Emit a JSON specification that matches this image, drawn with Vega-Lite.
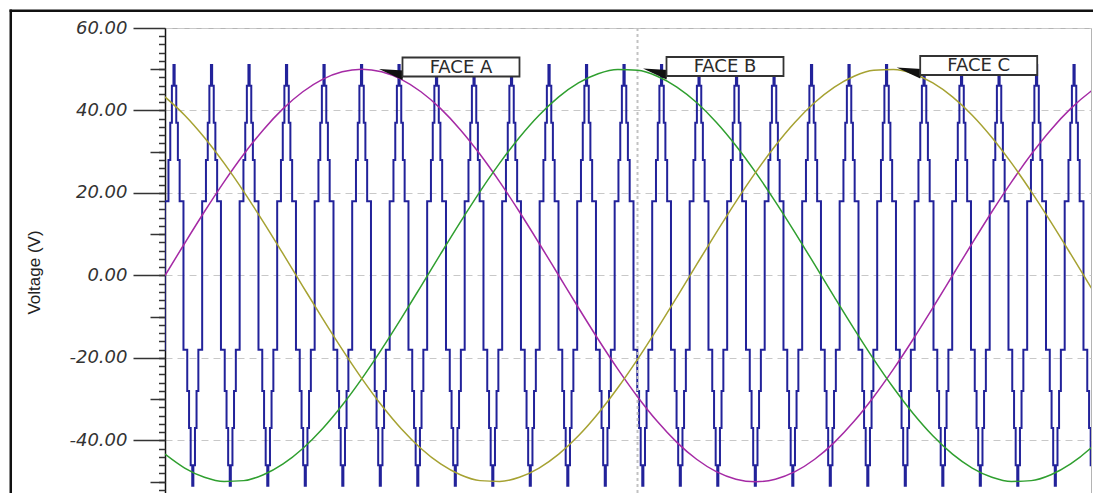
{
  "$schema": "https://vega.github.io/schema/vega-lite/v6.json",
  "width": 926,
  "height": 465,
  "autosize": {"type": "none"},
  "padding": {"left": 165, "top": 28, "right": 2, "bottom": 0},
  "background": "white",
  "config": {"view": {"stroke": "#b4b4b4", "strokeWidth": 1}},
  "datasets": {
    "phases": [
      {"t": 0, "A": 0, "B": -43.3, "C": 43.3},
      {"t": 0.5, "A": 7.82, "B": -46.68, "C": 38.86},
      {"t": 1, "A": 15.45, "B": -48.91, "C": 33.46},
      {"t": 1.5, "A": 22.7, "B": -49.93, "C": 27.23},
      {"t": 2, "A": 29.39, "B": -49.73, "C": 20.34},
      {"t": 2.5, "A": 35.36, "B": -48.3, "C": 12.94},
      {"t": 3, "A": 40.45, "B": -45.68, "C": 5.23},
      {"t": 3.5, "A": 44.55, "B": -41.93, "C": -2.62},
      {"t": 4, "A": 47.55, "B": -37.16, "C": -10.4},
      {"t": 4.5, "A": 49.38, "B": -31.47, "C": -17.92},
      {"t": 5, "A": 50, "B": -25, "C": -25},
      {"t": 5.5, "A": 49.38, "B": -17.92, "C": -31.47},
      {"t": 6, "A": 47.55, "B": -10.4, "C": -37.16},
      {"t": 6.5, "A": 44.55, "B": -2.62, "C": -41.93},
      {"t": 7, "A": 40.45, "B": 5.23, "C": -45.68},
      {"t": 7.5, "A": 35.36, "B": 12.94, "C": -48.3},
      {"t": 8, "A": 29.39, "B": 20.34, "C": -49.73},
      {"t": 8.5, "A": 22.7, "B": 27.23, "C": -49.93},
      {"t": 9, "A": 15.45, "B": 33.46, "C": -48.91},
      {"t": 9.5, "A": 7.82, "B": 38.86, "C": -46.68},
      {"t": 10, "A": 0, "B": 43.3, "C": -43.3},
      {"t": 10.5, "A": -7.82, "B": 46.68, "C": -38.86},
      {"t": 11, "A": -15.45, "B": 48.91, "C": -33.46},
      {"t": 11.5, "A": -22.7, "B": 49.93, "C": -27.23},
      {"t": 12, "A": -29.39, "B": 49.73, "C": -20.34},
      {"t": 12.5, "A": -35.36, "B": 48.3, "C": -12.94},
      {"t": 13, "A": -40.45, "B": 45.68, "C": -5.23},
      {"t": 13.5, "A": -44.55, "B": 41.93, "C": 2.62},
      {"t": 14, "A": -47.55, "B": 37.16, "C": 10.4},
      {"t": 14.5, "A": -49.38, "B": 31.47, "C": 17.92},
      {"t": 15, "A": -50, "B": 25, "C": 25},
      {"t": 15.5, "A": -49.38, "B": 17.92, "C": 31.47},
      {"t": 16, "A": -47.55, "B": 10.4, "C": 37.16},
      {"t": 16.5, "A": -44.55, "B": 2.62, "C": 41.93},
      {"t": 17, "A": -40.45, "B": -5.23, "C": 45.68},
      {"t": 17.5, "A": -35.36, "B": -12.94, "C": 48.3},
      {"t": 18, "A": -29.39, "B": -20.34, "C": 49.73},
      {"t": 18.5, "A": -22.7, "B": -27.23, "C": 49.93},
      {"t": 19, "A": -15.45, "B": -33.46, "C": 48.91},
      {"t": 19.5, "A": -7.82, "B": -38.86, "C": 46.68},
      {"t": 20, "A": 0, "B": -43.3, "C": 43.3},
      {"t": 20.5, "A": 7.82, "B": -46.68, "C": 38.86},
      {"t": 21, "A": 15.45, "B": -48.91, "C": 33.46},
      {"t": 21.5, "A": 22.7, "B": -49.93, "C": 27.23},
      {"t": 22, "A": 29.39, "B": -49.73, "C": 20.34},
      {"t": 22.5, "A": 35.36, "B": -48.3, "C": 12.94},
      {"t": 23, "A": 40.45, "B": -45.68, "C": 5.23},
      {"t": 23.5, "A": 44.55, "B": -41.93, "C": -2.62},
      {"t": 24, "A": 47.55, "B": -37.16, "C": -10.4}
    ],
    "pwm": [
      {"t":-0.105,"v":-18},{"t":-0.008,"v":18},{"t":0.088,"v":28},{"t":0.134,"v":37},{"t":0.175,"v":46},{"t":0.215,"v":51},
      {"t":0.245,"v":46},{"t":0.286,"v":37},{"t":0.327,"v":28},{"t":0.372,"v":18},{"t":0.469,"v":-18},{"t":0.565,"v":-28},{"t":0.611,"v":-37},{"t":0.652,"v":-46},{"t":0.692,"v":-51},{"t":0.720,"v":-46},{"t":0.761,"v":-37},{"t":0.801,"v":-28},{"t":0.847,"v":-18},{"t":0.944,"v":18},{"t":1.040,"v":28},{"t":1.086,"v":37},{"t":1.127,"v":46},{"t":1.167,"v":51},
      {"t":1.197,"v":46},{"t":1.238,"v":37},{"t":1.279,"v":28},{"t":1.324,"v":18},{"t":1.421,"v":-18},{"t":1.517,"v":-28},{"t":1.563,"v":-37},{"t":1.604,"v":-46},{"t":1.644,"v":-51},{"t":1.672,"v":-46},{"t":1.713,"v":-37},{"t":1.753,"v":-28},{"t":1.799,"v":-18},{"t":1.896,"v":18},{"t":1.992,"v":28},{"t":2.038,"v":37},{"t":2.079,"v":46},{"t":2.119,"v":51},
      {"t":2.150,"v":46},{"t":2.191,"v":37},{"t":2.232,"v":28},{"t":2.277,"v":18},{"t":2.374,"v":-18},{"t":2.470,"v":-28},{"t":2.516,"v":-37},{"t":2.557,"v":-46},{"t":2.597,"v":-51},{"t":2.625,"v":-46},{"t":2.666,"v":-37},{"t":2.706,"v":-28},{"t":2.752,"v":-18},{"t":2.849,"v":18},{"t":2.945,"v":28},{"t":2.991,"v":37},{"t":3.032,"v":46},{"t":3.072,"v":51},
      {"t":3.102,"v":46},{"t":3.143,"v":37},{"t":3.184,"v":28},{"t":3.229,"v":18},{"t":3.326,"v":-18},{"t":3.422,"v":-28},{"t":3.468,"v":-37},{"t":3.509,"v":-46},{"t":3.549,"v":-51},{"t":3.577,"v":-46},{"t":3.618,"v":-37},{"t":3.658,"v":-28},{"t":3.704,"v":-18},{"t":3.801,"v":18},{"t":3.897,"v":28},{"t":3.943,"v":37},{"t":3.984,"v":46},{"t":4.024,"v":51},
      {"t":4.055,"v":46},{"t":4.096,"v":37},{"t":4.137,"v":28},{"t":4.182,"v":18},{"t":4.279,"v":-18},{"t":4.375,"v":-28},{"t":4.421,"v":-37},{"t":4.462,"v":-46},{"t":4.502,"v":-51},{"t":4.530,"v":-46},{"t":4.571,"v":-37},{"t":4.611,"v":-28},{"t":4.657,"v":-18},{"t":4.754,"v":18},{"t":4.850,"v":28},{"t":4.896,"v":37},{"t":4.937,"v":46},{"t":4.977,"v":51},
      {"t":5.007,"v":46},{"t":5.048,"v":37},{"t":5.089,"v":28},{"t":5.134,"v":18},{"t":5.231,"v":-18},{"t":5.327,"v":-28},{"t":5.373,"v":-37},{"t":5.414,"v":-46},{"t":5.454,"v":-51},{"t":5.482,"v":-46},{"t":5.523,"v":-37},{"t":5.563,"v":-28},{"t":5.609,"v":-18},{"t":5.706,"v":18},{"t":5.802,"v":28},{"t":5.848,"v":37},{"t":5.889,"v":46},{"t":5.929,"v":51},
      {"t":5.959,"v":46},{"t":6.000,"v":37},{"t":6.041,"v":28},{"t":6.086,"v":18},{"t":6.183,"v":-18},{"t":6.279,"v":-28},{"t":6.325,"v":-37},{"t":6.366,"v":-46},{"t":6.406,"v":-51},{"t":6.434,"v":-46},{"t":6.475,"v":-37},{"t":6.515,"v":-28},{"t":6.561,"v":-18},{"t":6.658,"v":18},{"t":6.754,"v":28},{"t":6.800,"v":37},{"t":6.841,"v":46},{"t":6.881,"v":51},
      {"t":6.912,"v":46},{"t":6.953,"v":37},{"t":6.994,"v":28},{"t":7.039,"v":18},{"t":7.136,"v":-18},{"t":7.232,"v":-28},{"t":7.278,"v":-37},{"t":7.319,"v":-46},{"t":7.359,"v":-51},{"t":7.387,"v":-46},{"t":7.428,"v":-37},{"t":7.468,"v":-28},{"t":7.514,"v":-18},{"t":7.611,"v":18},{"t":7.707,"v":28},{"t":7.753,"v":37},{"t":7.794,"v":46},{"t":7.834,"v":51},
      {"t":7.864,"v":46},{"t":7.905,"v":37},{"t":7.946,"v":28},{"t":7.991,"v":18},{"t":8.088,"v":-18},{"t":8.184,"v":-28},{"t":8.230,"v":-37},{"t":8.271,"v":-46},{"t":8.311,"v":-51},{"t":8.339,"v":-46},{"t":8.380,"v":-37},{"t":8.420,"v":-28},{"t":8.466,"v":-18},{"t":8.563,"v":18},{"t":8.659,"v":28},{"t":8.705,"v":37},{"t":8.746,"v":46},{"t":8.786,"v":51},
      {"t":8.816,"v":46},{"t":8.857,"v":37},{"t":8.898,"v":28},{"t":8.943,"v":18},{"t":9.040,"v":-18},{"t":9.136,"v":-28},{"t":9.182,"v":-37},{"t":9.223,"v":-46},{"t":9.263,"v":-51},{"t":9.291,"v":-46},{"t":9.332,"v":-37},{"t":9.372,"v":-28},{"t":9.418,"v":-18},{"t":9.515,"v":18},{"t":9.611,"v":28},{"t":9.657,"v":37},{"t":9.698,"v":46},{"t":9.738,"v":51},
      {"t":9.769,"v":46},{"t":9.810,"v":37},{"t":9.851,"v":28},{"t":9.896,"v":18},{"t":9.993,"v":-18},{"t":10.089,"v":-28},{"t":10.135,"v":-37},{"t":10.176,"v":-46},{"t":10.216,"v":-51},{"t":10.244,"v":-46},{"t":10.285,"v":-37},{"t":10.325,"v":-28},{"t":10.371,"v":-18},{"t":10.468,"v":18},{"t":10.564,"v":28},{"t":10.610,"v":37},{"t":10.651,"v":46},{"t":10.691,"v":51},
      {"t":10.721,"v":46},{"t":10.762,"v":37},{"t":10.803,"v":28},{"t":10.848,"v":18},{"t":10.945,"v":-18},{"t":11.041,"v":-28},{"t":11.087,"v":-37},{"t":11.128,"v":-46},{"t":11.168,"v":-51},{"t":11.196,"v":-46},{"t":11.237,"v":-37},{"t":11.277,"v":-28},{"t":11.323,"v":-18},{"t":11.420,"v":18},{"t":11.516,"v":28},{"t":11.562,"v":37},{"t":11.603,"v":46},{"t":11.643,"v":51},
      {"t":11.674,"v":46},{"t":11.715,"v":37},{"t":11.756,"v":28},{"t":11.801,"v":18},{"t":11.898,"v":-18},{"t":11.994,"v":-28},{"t":12.040,"v":-37},{"t":12.081,"v":-46},{"t":12.121,"v":-51},{"t":12.149,"v":-46},{"t":12.190,"v":-37},{"t":12.230,"v":-28},{"t":12.276,"v":-18},{"t":12.373,"v":18},{"t":12.469,"v":28},{"t":12.515,"v":37},{"t":12.556,"v":46},{"t":12.596,"v":51},
      {"t":12.626,"v":46},{"t":12.667,"v":37},{"t":12.708,"v":28},{"t":12.753,"v":18},{"t":12.850,"v":-18},{"t":12.946,"v":-28},{"t":12.992,"v":-37},{"t":13.033,"v":-46},{"t":13.073,"v":-51},{"t":13.101,"v":-46},{"t":13.142,"v":-37},{"t":13.182,"v":-28},{"t":13.228,"v":-18},{"t":13.325,"v":18},{"t":13.421,"v":28},{"t":13.467,"v":37},{"t":13.508,"v":46},{"t":13.548,"v":51},
      {"t":13.578,"v":46},{"t":13.619,"v":37},{"t":13.660,"v":28},{"t":13.705,"v":18},{"t":13.802,"v":-18},{"t":13.898,"v":-28},{"t":13.944,"v":-37},{"t":13.985,"v":-46},{"t":14.025,"v":-51},{"t":14.053,"v":-46},{"t":14.094,"v":-37},{"t":14.134,"v":-28},{"t":14.180,"v":-18},{"t":14.277,"v":18},{"t":14.373,"v":28},{"t":14.419,"v":37},{"t":14.460,"v":46},{"t":14.500,"v":51},
      {"t":14.531,"v":46},{"t":14.572,"v":37},{"t":14.613,"v":28},{"t":14.658,"v":18},{"t":14.755,"v":-18},{"t":14.851,"v":-28},{"t":14.897,"v":-37},{"t":14.938,"v":-46},{"t":14.978,"v":-51},{"t":15.006,"v":-46},{"t":15.047,"v":-37},{"t":15.087,"v":-28},{"t":15.133,"v":-18},{"t":15.230,"v":18},{"t":15.326,"v":28},{"t":15.372,"v":37},{"t":15.413,"v":46},{"t":15.453,"v":51},
      {"t":15.483,"v":46},{"t":15.524,"v":37},{"t":15.565,"v":28},{"t":15.610,"v":18},{"t":15.707,"v":-18},{"t":15.803,"v":-28},{"t":15.849,"v":-37},{"t":15.890,"v":-46},{"t":15.930,"v":-51},{"t":15.958,"v":-46},{"t":15.999,"v":-37},{"t":16.039,"v":-28},{"t":16.085,"v":-18},{"t":16.182,"v":18},{"t":16.278,"v":28},{"t":16.324,"v":37},{"t":16.365,"v":46},{"t":16.405,"v":51},
      {"t":16.435,"v":46},{"t":16.476,"v":37},{"t":16.517,"v":28},{"t":16.562,"v":18},{"t":16.659,"v":-18},{"t":16.755,"v":-28},{"t":16.801,"v":-37},{"t":16.842,"v":-46},{"t":16.882,"v":-51},{"t":16.910,"v":-46},{"t":16.951,"v":-37},{"t":16.991,"v":-28},{"t":17.037,"v":-18},{"t":17.134,"v":18},{"t":17.230,"v":28},{"t":17.276,"v":37},{"t":17.317,"v":46},{"t":17.357,"v":51},
      {"t":17.388,"v":46},{"t":17.429,"v":37},{"t":17.470,"v":28},{"t":17.515,"v":18},{"t":17.612,"v":-18},{"t":17.708,"v":-28},{"t":17.754,"v":-37},{"t":17.795,"v":-46},{"t":17.835,"v":-51},{"t":17.863,"v":-46},{"t":17.904,"v":-37},{"t":17.944,"v":-28},{"t":17.990,"v":-18},{"t":18.087,"v":18},{"t":18.183,"v":28},{"t":18.229,"v":37},{"t":18.270,"v":46},{"t":18.310,"v":51},
      {"t":18.340,"v":46},{"t":18.381,"v":37},{"t":18.422,"v":28},{"t":18.467,"v":18},{"t":18.564,"v":-18},{"t":18.660,"v":-28},{"t":18.706,"v":-37},{"t":18.747,"v":-46},{"t":18.787,"v":-51},{"t":18.815,"v":-46},{"t":18.856,"v":-37},{"t":18.896,"v":-28},{"t":18.942,"v":-18},{"t":19.039,"v":18},{"t":19.135,"v":28},{"t":19.181,"v":37},{"t":19.222,"v":46},{"t":19.262,"v":51},
      {"t":19.293,"v":46},{"t":19.334,"v":37},{"t":19.375,"v":28},{"t":19.420,"v":18},{"t":19.517,"v":-18},{"t":19.613,"v":-28},{"t":19.659,"v":-37},{"t":19.700,"v":-46},{"t":19.740,"v":-51},{"t":19.768,"v":-46},{"t":19.809,"v":-37},{"t":19.849,"v":-28},{"t":19.895,"v":-18},{"t":19.992,"v":18},{"t":20.088,"v":28},{"t":20.134,"v":37},{"t":20.175,"v":46},{"t":20.215,"v":51},
      {"t":20.245,"v":46},{"t":20.286,"v":37},{"t":20.327,"v":28},{"t":20.372,"v":18},{"t":20.469,"v":-18},{"t":20.565,"v":-28},{"t":20.611,"v":-37},{"t":20.652,"v":-46},{"t":20.692,"v":-51},{"t":20.720,"v":-46},{"t":20.761,"v":-37},{"t":20.801,"v":-28},{"t":20.847,"v":-18},{"t":20.944,"v":18},{"t":21.040,"v":28},{"t":21.086,"v":37},{"t":21.127,"v":46},{"t":21.167,"v":51},
      {"t":21.197,"v":46},{"t":21.238,"v":37},{"t":21.279,"v":28},{"t":21.324,"v":18},{"t":21.421,"v":-18},{"t":21.517,"v":-28},{"t":21.563,"v":-37},{"t":21.604,"v":-46},{"t":21.644,"v":-51},{"t":21.672,"v":-46},{"t":21.713,"v":-37},{"t":21.753,"v":-28},{"t":21.799,"v":-18},{"t":21.896,"v":18},{"t":21.992,"v":28},{"t":22.038,"v":37},{"t":22.079,"v":46},{"t":22.119,"v":51},
      {"t":22.150,"v":46},{"t":22.191,"v":37},{"t":22.232,"v":28},{"t":22.277,"v":18},{"t":22.374,"v":-18},{"t":22.470,"v":-28},{"t":22.516,"v":-37},{"t":22.557,"v":-46},{"t":22.597,"v":-51},{"t":22.625,"v":-46},{"t":22.666,"v":-37},{"t":22.706,"v":-28},{"t":22.752,"v":-18},{"t":22.849,"v":18},{"t":22.945,"v":28},{"t":22.991,"v":37},{"t":23.032,"v":46},{"t":23.072,"v":51},
      {"t":23.102,"v":46},{"t":23.143,"v":37},{"t":23.184,"v":28},{"t":23.229,"v":18},{"t":23.326,"v":-18},{"t":23.422,"v":-28},{"t":23.468,"v":-37},{"t":23.509,"v":-46},{"t":23.549,"v":-51},{"t":23.577,"v":-46}
    ],
    "notes": [
      {"label": "FACE A", "t": 7.517, "v": 50.55},
      {"label": "FACE B", "t": 14.222, "v": 50.67},
      {"label": "FACE C", "t": 20.665, "v": 50.91}
    ]
  },
  "resolve": {"axis": {"y": "independent"}},
  "layer": [
    {
      "data": {"values": [{}]},
      "mark": {"type": "rule", "color": "#111111", "strokeWidth": 2.5, "clip": false},
      "encoding": {
        "x": {"datum": -3.949, "type": "quantitative", "scale": {"domain": [0, 23.517], "nice": false, "zero": false}, "axis": null},
        "x2": {"datum": 23.7},
        "y": {"datum": 64.18, "type": "quantitative", "scale": {"domain": [-52.73, 60], "nice": false, "zero": false}, "axis": null}
      }
    },
    {
      "data": {"values": [{}]},
      "mark": {"type": "rule", "color": "#111111", "strokeWidth": 2.5, "clip": false},
      "encoding": {
        "x": {"datum": -3.917, "type": "quantitative", "scale": {"domain": [0, 23.517], "nice": false, "zero": false}, "axis": null},
        "y": {"datum": 64.485, "type": "quantitative", "scale": {"domain": [-52.73, 60], "nice": false, "zero": false}, "axis": null},
        "y2": {"datum": -54}
      }
    },
    {
      "data": {"name": "pwm"},
      "mark": {"type": "line", "interpolate": "step-after", "color": "#22229a", "strokeWidth": 2, "clip": true},
      "encoding": {
        "x": {"field": "t", "type": "quantitative", "scale": {"domain": [0, 23.517], "nice": false, "zero": false}, "axis": null},
        "y": {
          "field": "v", "type": "quantitative",
          "scale": {"domain": [-52.73, 60], "nice": false, "zero": false},
          "axis": {
            "orient": "left",
            "values": [60, 40, 20, 0, -20, -40],
            "labelExpr": "replace(format(datum.value, '.2f'), '\u2212', '-')",
            "tickSize": 32, "tickColor": "#333333", "tickWidth": 1.5,
            "domain": true, "domainColor": "#111111", "domainWidth": 1.5,
            "labelFont": "DejaVu Sans", "labelFontStyle": "italic", "labelFontSize": 18,
            "labelColor": "#333333", "labelPadding": 6, "labelOverlap": false, "labelFlush": false,
            "grid": true, "gridColor": "#c8c8c8", "gridDash": [7, 5], "gridWidth": 1,
            "title": "Voltage (V)", "titleFont": "Liberation Sans", "titleFontSize": 17,
            "titleFontWeight": "normal", "titleColor": "#222222",
            "titleAngle": -90, "titleX": -131, "titleY": 244,
            "titleAlign": "center", "titleBaseline": "middle"
          }
        }
      }
    },
    {
      "data": {"values": [{}]},
      "mark": {"type": "rule", "color": "#c2c2c2", "strokeWidth": 2, "strokeDash": [3, 3]},
      "encoding": {
        "x": {"datum": 12.0, "type": "quantitative", "scale": {"domain": [0, 23.517], "nice": false, "zero": false}, "axis": null}
      }
    },
    {
      "data": {"name": "phases"},
      "transform": [{"fold": ["A", "B", "C"], "as": ["phase", "value"]}],
      "mark": {"type": "line", "interpolate": "monotone", "strokeWidth": 1.5, "clip": true},
      "encoding": {
        "x": {"field": "t", "type": "quantitative", "scale": {"domain": [0, 23.517], "nice": false, "zero": false}, "axis": null},
        "y": {
          "field": "value", "type": "quantitative",
          "scale": {"domain": [-52.73, 60], "nice": false, "zero": false},
          "axis": {
            "orient": "left", "values": [50, 30, 10, -10, -30, -50],
            "tickSize": 15, "tickColor": "#333333", "tickWidth": 1.5,
            "labels": false, "domain": false, "grid": false, "title": null
          }
        },
        "color": {
          "field": "phase", "type": "nominal",
          "scale": {"domain": ["A", "B", "C"], "range": ["#a52aa5", "#2f9f2f", "#a6a232"]},
          "legend": null
        }
      }
    },
    {
      "data": {"name": "notes"},
      "mark": {"type": "point", "shape": "M-82,2L-57,3.5L-58.5,13Z", "size": 4, "filled": true, "fill": "#111111", "stroke": null, "opacity": 1},
      "encoding": {
        "x": {"field": "t", "type": "quantitative", "scale": {"domain": [0, 23.517], "nice": false, "zero": false}, "axis": null},
        "y": {"field": "v", "type": "quantitative", "scale": {"domain": [-52.73, 60], "nice": false, "zero": false}, "axis": null}
      }
    },
    {
      "data": {"name": "notes"},
      "mark": {"type": "point", "shape": "M-58.5,-9.5H58.5V9.5H-58.5Z", "size": 4, "filled": true, "fill": "white", "stroke": "#333333", "strokeWidth": 1.8, "opacity": 1},
      "encoding": {
        "x": {"field": "t", "type": "quantitative", "scale": {"domain": [0, 23.517], "nice": false, "zero": false}, "axis": null},
        "y": {
          "field": "v", "type": "quantitative",
          "scale": {"domain": [-52.73, 60], "nice": false, "zero": false},
          "axis": {
            "orient": "left",
            "values": [58, 56, 54, 52, 50, 48, 46, 44, 42, 40, 38, 36, 34, 32, 30, 28, 26, 24, 22, 20, 18, 16, 14, 12, 10, 8, 6, 4, 2, 0, -2, -4, -6, -8, -10, -12, -14, -16, -18, -20, -22, -24, -26, -28, -30, -32, -34, -36, -38, -40, -42, -44, -46, -48, -50, -52],
            "tickSize": 6.5, "tickColor": "#333333", "tickWidth": 1.5,
            "labels": false, "domain": false, "grid": false, "title": null
          }
        }
      }
    },
    {
      "data": {"name": "notes"},
      "mark": {"type": "text", "font": "DejaVu Sans", "fontSize": 18, "color": "#2b2b2b", "align": "center", "baseline": "middle", "dy": 1},
      "encoding": {
        "x": {"field": "t", "type": "quantitative", "scale": {"domain": [0, 23.517], "nice": false, "zero": false}, "axis": null},
        "y": {"field": "v", "type": "quantitative", "scale": {"domain": [-52.73, 60], "nice": false, "zero": false}, "axis": null},
        "text": {"field": "label"}
      }
    }
  ]
}
